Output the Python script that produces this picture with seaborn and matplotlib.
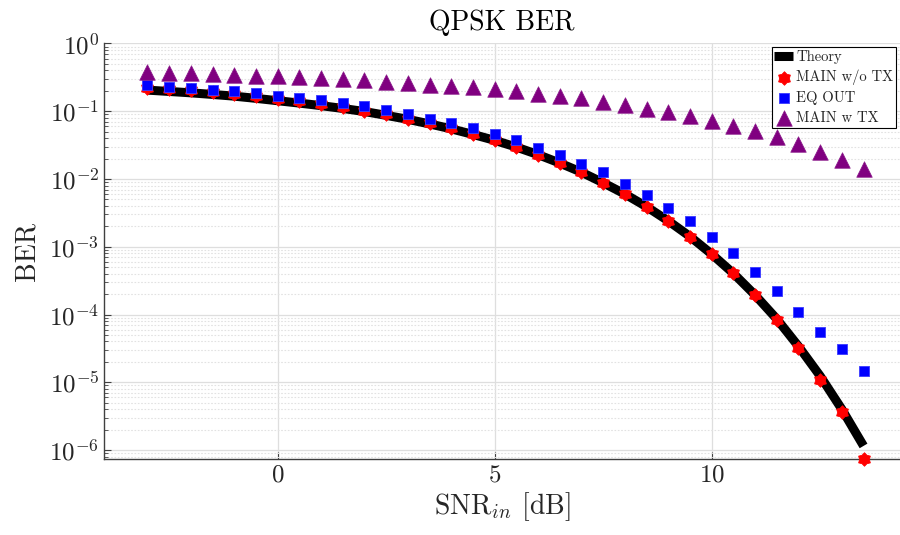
import numpy as np
import pandas as pd
import matplotlib
matplotlib.use("Agg")
import matplotlib.pyplot as plt
import seaborn as sns
from matplotlib.path import Path
from matplotlib.ticker import NullFormatter, FixedLocator, LogFormatterSciNotation

# ---------------- data ----------------
snr = [-3.0, -2.5, -2.0, -1.5, -1.0, -0.5, 0.0, 0.5, 1.0, 1.5, 2.0, 2.5,
       3.0, 3.5, 4.0, 4.5, 5.0, 5.5, 6.0, 6.5, 7.0, 7.5, 8.0, 8.5, 9.0,
       9.5, 10.0, 10.5, 11.0, 11.5, 12.0, 12.5, 13.0, 13.5]

theory = [0.205, 0.196, 0.187, 0.177, 0.167, 0.155, 0.143, 0.132, 0.121,
          0.110, 0.099, 0.087, 0.076, 0.065, 0.055, 0.0455, 0.0372, 0.0296,
          0.0229, 0.0172, 0.0126, 0.0088, 0.0060, 0.0039, 0.00241, 0.00142,
          7.8e-4, 4.05e-4, 1.94e-4, 8.6e-5, 3.4e-5, 1.24e-5, 4.0e-6, 1.15e-6]

main_wo_tx = [0.224, 0.214, 0.203, 0.192, 0.180, 0.167, 0.153, 0.140, 0.127,
              0.115, 0.102, 0.090, 0.078, 0.0665, 0.0560, 0.0462, 0.0374,
              0.0297, 0.0229, 0.0172, 0.0126, 0.0088, 0.0060, 0.0039, 0.00240,
              0.00141, 7.8e-4, 4.07e-4, 1.95e-4, 8.35e-5, 3.26e-5, 1.09e-5,
              3.6e-6, 7.4e-7]

eq_out = [0.244, 0.228, 0.218, 0.208, 0.199, 0.184, 0.170, 0.156, 0.145,
          0.132, 0.118, 0.1035, 0.0912, 0.0775, 0.0665, 0.0561, 0.0455,
          0.0371, 0.0288, 0.0223, 0.0168, 0.0125, 0.00855, 0.00589, 0.00375,
          0.00239, 0.00140, 8.13e-4, 4.27e-4, 2.21e-4, 1.10e-4, 5.56e-5,
          3.05e-5, 1.49e-5]

main_w_tx = [0.377, 0.370, 0.363, 0.355, 0.347, 0.337, 0.330, 0.318, 0.310,
             0.299, 0.287, 0.273, 0.260, 0.248, 0.238, 0.226, 0.212, 0.197,
             0.182, 0.168, 0.156, 0.138, 0.122, 0.109, 0.0970, 0.0838, 0.0714,
             0.0603, 0.0507, 0.0411, 0.0327, 0.0253, 0.0190, 0.0140]

labels = ["Theory", "MAIN w/o TX", "EQ OUT", "MAIN w TX"]
xticks = [0, 5, 10]
yticks = [1e-6, 1e-5, 1e-4, 1e-3, 1e-2, 1e-1, 1e0]

# ---------------- style ----------------
sns.set_style("white")
plt.rcParams.update({
    "font.family": ["cmr10", "DejaVu Serif"],
    "mathtext.fontset": "cm",
    "axes.formatter.use_mathtext": True,
    "axes.unicode_minus": False,
})

df = pd.DataFrame({"snr": snr, "theory": theory, "main_wo": main_wo_tx,
                   "eq": eq_out, "main_w": main_w_tx})

fig, ax = plt.subplots(figsize=(9, 5.35), dpi=100)
fig.subplots_adjust(left=0.1156, right=1.0, bottom=0.1415, top=0.9187)

sns.lineplot(data=df, x="snr", y="theory", color="black", lw=6.5,
             estimator=None, ax=ax, label=labels[0], solid_capstyle="butt",
             zorder=3)

hexagram = Path.unit_regular_star(6, 0.72)
sns.scatterplot(data=df, x="snr", y="main_wo", marker=hexagram, s=95,
                color="#ff0000", edgecolor="#ff0000", linewidth=0.6,
                ax=ax, label=labels[1], clip_on=False, zorder=4)
sns.scatterplot(data=df, x="snr", y="eq", marker="s", s=62,
                color="#0000ff", edgecolor="#3a3aff", linewidth=0.6,
                ax=ax, label=labels[2], clip_on=False, zorder=5)
sns.scatterplot(data=df, x="snr", y="main_w", marker="^", s=125,
                color="#800080", edgecolor="#8a1a8a", linewidth=0.5,
                ax=ax, label=labels[3], clip_on=False, zorder=6)

ax.set_yscale("log")
ax.set_ylim(7.3e-7, 1.0)
ax.set_xlim(-4.0, 14.34)
ax.xaxis.set_major_locator(FixedLocator(xticks))
ax.yaxis.set_major_locator(FixedLocator(yticks))
ax.yaxis.set_major_formatter(LogFormatterSciNotation())
minor = [m * d for d in [1e-7, 1e-6, 1e-5, 1e-4, 1e-3, 1e-2, 1e-1]
         for m in range(2, 10)]
ax.yaxis.set_minor_locator(FixedLocator([v for v in minor if v >= 7.3e-7]))
ax.yaxis.set_minor_formatter(NullFormatter())
ax.xaxis.get_offset_text().set_visible(False)
ax.yaxis.get_offset_text().set_visible(False)

ax.grid(which="major", color="#dedede", lw=0.9, ls="-")
ax.grid(which="minor", axis="y", color="#e2e2e2", lw=0.8, ls=(0, (1.5, 1.5)))
ax.set_axisbelow(True)

for side in ["top", "right"]:
    ax.spines[side].set_visible(False)
for side in ["left", "bottom"]:
    ax.spines[side].set_color("#404040")
    ax.spines[side].set_linewidth(1.0)

ax.tick_params(which="major", direction="in", length=5, width=0.8,
               colors="#404040", labelcolor="#262626", labelsize=18,
               left=True, bottom=True)
ax.tick_params(which="minor", direction="in", length=3, width=0.6,
               colors="#404040", left=True)

ax.set_title("QPSK BER", fontsize=20, pad=10, color="black")
ax.set_xlabel(r"SNR$_{in}$ [dB]", fontsize=20, labelpad=3, color="#262626")
ax.set_ylabel("BER", fontsize=20, labelpad=6, color="#262626")

leg = ax.legend(loc="upper right", fontsize=10.5, frameon=True, fancybox=False,
                edgecolor="black", framealpha=1, borderpad=0.2,
                labelspacing=0.4, handlelength=1.3, handletextpad=0.2,
                borderaxespad=0.25)
leg.get_frame().set_linewidth(0.8)

fig.savefig("out.png", dpi=100)
